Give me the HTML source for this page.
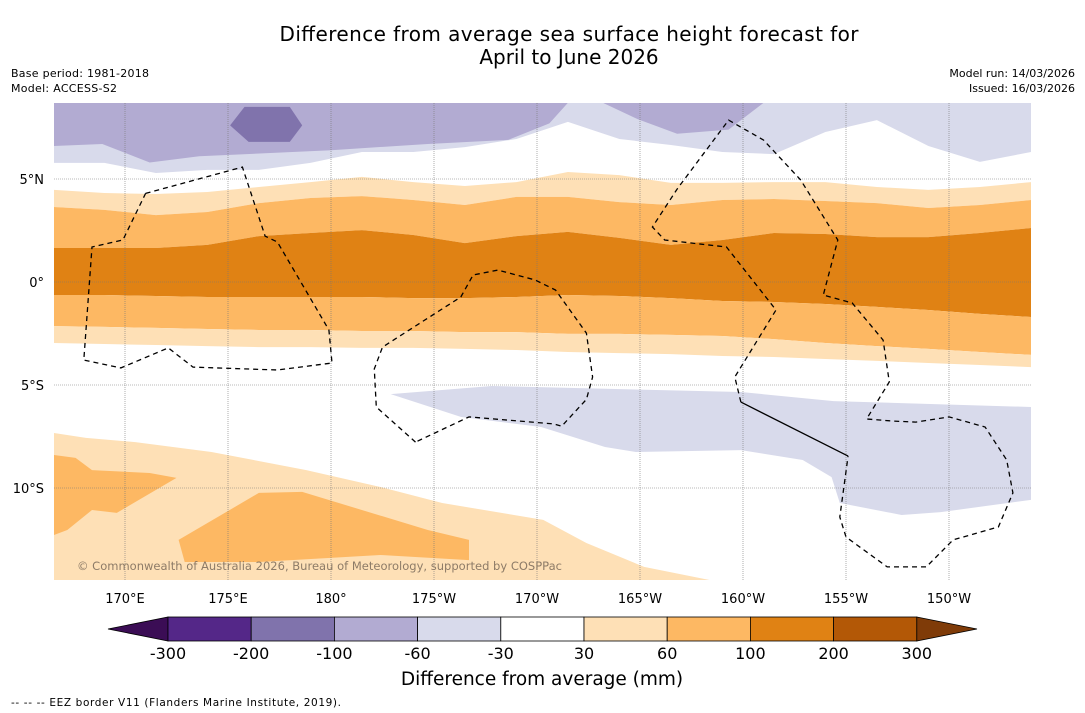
<!DOCTYPE html>
<html><head><meta charset="utf-8">
<style>
body{margin:0;background:#fff;width:1085px;height:713px;overflow:hidden;font-family:"DejaVu Sans","Liberation Sans",sans-serif;}
svg{display:block}
</style></head>
<body>
<svg id="chart" width="1085" height="713" viewBox="0 0 1085 713" xmlns="http://www.w3.org/2000/svg" font-family="DejaVu Sans, Liberation Sans, sans-serif">
<rect width="1085" height="713" fill="#fff"/>
<text x="569" y="41" font-size="20" text-anchor="middle" fill="#000" textLength="579">Difference from average sea surface height forecast for</text>
<text x="569" y="64" font-size="20" text-anchor="middle" fill="#000">April to June 2026</text>
<text x="11" y="77" font-size="11" textLength="138">Base period: 1981-2018</text>
<text x="11" y="92" font-size="11" textLength="106">Model: ACCESS-S2</text>
<text x="1075" y="77" font-size="11" text-anchor="end">Model run: 14/03/2026</text>
<text x="1075" y="92" font-size="11" text-anchor="end">Issued: 16/03/2026</text>
<defs><clipPath id="mapclip"><rect x="54" y="103" width="977" height="477"/></clipPath></defs>
<g id="map" clip-path="url(#mapclip)"></g>
<g id="grid"></g>
<g id="eez"></g>
<text x="77" y="570" font-size="11.5" fill="#7a6a5a" opacity="0.85" textLength="485">© Commonwealth of Australia 2026, Bureau of Meteorology, supported by COSPPac</text>
<g id="axes"></g>
<g id="cbar"></g>
<text x="542" y="685" font-size="18.5" text-anchor="middle">Difference from average (mm)</text>
<text x="11" y="706" font-size="10.5" textLength="330">--  --  -- EEZ border V11 (Flanders Marine Institute, 2019).</text>
</svg>
<script>
// ---- data ----
const cbLevels = ["-300","-200","-100","-60","-30","30","60","100","200","300"];
const cbColors = ["#542788","#8073ac","#b2abd2","#d8daeb","#ffffff","#fee0b6","#fdb863","#e08214","#b35806"];
const cbExtendLow = "#3b0d55", cbExtendHigh = "#7f3b08";
const lonTicks = [170,175,180,185,190,195,200,205,210];
const lonTickLabels = ["170°E","175°E","180°","175°W","170°W","165°W","160°W","155°W","150°W"];
const latTicks = [5,0,-5,-10];
const latTickLabels = ["5°N","0°","5°S","10°S"];
// contour boundaries (latitude) sampled at these longitudes
const sampleLons = [166.55,169.0,171.5,174.0,176.5,179.0,181.5,184.0,186.5,189.0,191.5,194.0,196.5,199.0,201.5,204.0,206.5,209.0,211.5,213.98];
const bWhiteLt = [4.47,4.32,4.27,4.37,4.61,4.85,5.10,4.85,4.66,4.85,5.34,5.19,4.81,4.81,4.85,4.85,4.61,4.47,4.61,4.85];
const bLtOr    = [3.64,3.50,3.25,3.40,3.83,4.08,4.17,3.98,3.74,4.13,4.13,3.88,3.74,3.98,4.03,3.93,3.83,3.59,3.74,3.98];
const bOrDark  = [1.65,1.65,1.65,1.80,2.23,2.38,2.52,2.28,1.89,2.23,2.43,2.14,1.80,2.04,2.38,2.33,2.18,2.18,2.38,2.62];
const bDarkOr  = [-0.63,-0.63,-0.68,-0.73,-0.73,-0.73,-0.73,-0.78,-0.78,-0.73,-0.63,-0.68,-0.78,-0.92,-0.97,-1.07,-1.21,-1.36,-1.55,-1.70];
const bOrLt    = [-2.14,-2.18,-2.23,-2.28,-2.33,-2.33,-2.38,-2.38,-2.43,-2.43,-2.52,-2.52,-2.57,-2.62,-2.77,-2.96,-3.11,-3.25,-3.40,-3.54];
const bLtWhite = [-2.96,-3.01,-3.06,-3.11,-3.16,-3.16,-3.20,-3.20,-3.25,-3.30,-3.40,-3.45,-3.50,-3.59,-3.64,-3.74,-3.83,-3.93,-4.03,-4.13];
const bLavTop  = [5.78,5.78,5.29,5.44,5.44,5.78,6.31,6.31,6.55,6.94,7.77,6.94,6.65,6.31,6.21,7.28,7.86,6.60,5.83,6.31];
// closed regions [lon, lat]
const purpleLeft = [[166.55,8.7],[191.5,8.7],[190.6,7.7],[188.6,6.9],[184.7,6.7],[180,6.4],[173.6,6.1],[171.2,5.8],[168.9,6.7],[166.55,6.6]];
const purpleDark = [[175.8,8.5],[178,8.5],[178.6,7.6],[178,6.8],[176,6.8],[175.1,7.6]];
const purpleRight = [[193.2,8.7],[201,8.7],[199.3,7.4],[196.8,7.2],[194.9,7.9]];
const lavSouth = [[182.9,-5.44],[187.8,-5.05],[199.9,-5.34],[204.4,-5.78],[213.98,-6.07],[213.98,-10.58],[209.6,-11.17],[207.7,-11.31],[204.7,-10.73],[204.3,-9.47],[202.9,-8.64],[199.9,-8.16],[194.8,-8.25],[193.3,-8.01],[190.2,-7.04],[186.3,-6.55]];
const ltOrSouth = [[166.55,-7.33],[168.1,-7.57],[170.5,-7.77],[174.2,-8.25],[178.8,-9.13],[182.4,-9.95],[185.4,-10.73],[190.3,-11.55],[192.4,-12.67],[195.2,-13.83],[198.4,-14.47],[166.55,-14.47]];
const orSouthA = [[166.55,-8.40],[167.6,-8.54],[168.4,-9.13],[171.2,-9.27],[172.5,-9.51],[169.6,-11.21],[168.4,-11.07],[167.2,-12.04],[166.55,-12.28]];
const orSouthB = [[172.6,-12.52],[176.5,-10.24],[178.6,-10.19],[184.7,-12.04],[186.7,-12.52],[186.7,-13.50],[182.4,-13.25],[176.5,-13.59],[172.9,-13.59]];
const eezLeft = [[171.0,4.3],[175.7,5.58],[176.8,2.23],[177.4,1.94],[179.9,-2.33],[180.05,-3.93],[177.4,-4.27],[173.3,-4.13],[172.1,-3.20],[169.8,-4.17],[168.0,-3.79],[168.4,1.70],[169.9,2.04],[171.0,4.3]];
const eezMid = [[184.1,-7.77],[182.2,-6.07],[182.1,-4.22],[182.5,-3.16],[186.3,-0.73],[186.9,0.34],[188.1,0.58],[189.9,0.10],[190.9,-0.39],[192.4,-2.48],[192.7,-4.61],[192.4,-5.7],[191.2,-7.0],[190.8,-6.89],[186.7,-6.55],[184.1,-7.77]];
const eezRight = [[199.9,-5.83],[199.6,-4.61],[201.6,-1.36],[199.2,1.70],[196.2,2.04],[195.6,2.67],[196.8,4.51],[199.3,7.86],[201.0,6.89],[202.8,4.95],[204.6,2.04],[203.9,-0.63],[205.3,-1.02],[206.8,-2.82],[207.1,-4.85],[206.0,-6.65],[207.3,-6.75],[208.4,-6.80],[210.0,-6.55],[211.75,-7.04],[212.8,-8.64],[213.1,-10.24],[212.4,-11.89],[210.2,-12.52],[208.9,-13.83],[207.0,-13.83],[205.0,-12.38],[204.7,-11.41],[205.1,-8.45]];
const eezSolid = [[199.9,-5.83],[205.1,-8.45]];
// ---- axes ----
const X = lon => 331 + (lon - 180) * 20.6;
const Y = lat => 282 - lat * 20.6;
const NS = "http://www.w3.org/2000/svg";
function mk(tag, attrs, parent){const e=document.createElementNS(NS,tag);for(const k in attrs)e.setAttribute(k,attrs[k]);parent.appendChild(e);return e;}
const map = document.getElementById('map');
function ptsLL(arr){return arr.map(p=>X(p[0]).toFixed(1)+","+Y(p[1]).toFixed(1)).join(" ");}
function band(upper, lower, color, name){
  const top = sampleLons.map((l,i)=>[l, upper ? upper[i] : 9]);
  const bot = sampleLons.map((l,i)=>[l, lower ? lower[i] : -15]).reverse();
  const e = mk('polygon',{points:ptsLL(top.concat(bot)),fill:color},map);
  
  
}
function region(arr,color,name){
  const e = mk('polygon',{points:ptsLL(arr),fill:color},map);
  
  
}
mk('rect',{x:54,y:103,width:977,height:477,fill:"#ffffff"},map);
band(null, bLavTop, "#d8daeb", "band-lavender-north");
region(purpleLeft, "#b2abd2", "band-purple-north-west");
region(purpleRight, "#b2abd2", "band-purple-north-east");
region(purpleDark, "#8073ac", "band-dark-purple-patch");
band(bWhiteLt, bLtOr, "#fee0b6", "band-light-orange-north");
band(bLtOr, bOrDark, "#fdb863", "band-orange-north");
band(bOrDark, bDarkOr, "#e08214", "band-dark-orange-equator");
band(bDarkOr, bOrLt, "#fdb863", "band-orange-south");
band(bOrLt, bLtWhite, "#fee0b6", "band-light-orange-south");
region(lavSouth, "#d8daeb", "band-lavender-south");
region(ltOrSouth, "#fee0b6", "band-light-orange-southwest");
region(orSouthA, "#fdb863", "band-orange-southwest-a");
region(orSouthB, "#fdb863", "band-orange-southwest-b");
// grid
const grid = document.getElementById('grid');
lonTicks.forEach(l=>{const e=mk('line',{x1:X(l),x2:X(l),y1:103,y2:580,stroke:"#777","stroke-width":0.6,"stroke-dasharray":"1,1"},grid);
 
 });
latTicks.forEach(l=>{const e=mk('line',{x1:54,x2:1031,y1:Y(l),y2:Y(l),stroke:"#777","stroke-width":0.6,"stroke-dasharray":"1,1"},grid);
 
 });
// eez
const eez = document.getElementById('eez');
[eezLeft,eezMid,eezRight].forEach(a=>{const e=mk('polyline',{points:ptsLL(a),fill:"none",stroke:"#000","stroke-width":1.3,"stroke-dasharray":"5,4"},eez);
 
 });
{const e=mk('polyline',{points:ptsLL(eezSolid),fill:"none",stroke:"#000","stroke-width":1.3},eez);
 
 }
// axes labels
const axes = document.getElementById('axes');
lonTicks.forEach((l,i)=>{const t=mk('text',{x:X(l),y:603,"font-size":13,"text-anchor":"middle"},axes);t.textContent=lonTickLabels[i];
 
 });
latTicks.forEach((l,i)=>{const t=mk('text',{x:44,y:Y(l)+5,"font-size":13,"text-anchor":"end"},axes);t.textContent=latTickLabels[i];
 
 });
// colorbar
const cb = document.getElementById('cbar');
const cbX0 = 168, cbW = 83.2, cbY = 617, cbH = 24;
{const e=mk('polygon',{points:`108,${cbY+cbH/2} ${cbX0},${cbY} ${cbX0},${cbY+cbH}`,fill:cbExtendLow,stroke:"#000","stroke-width":0.8},cb);
 
 }
cbColors.forEach((c,i)=>{const e=mk('rect',{x:cbX0+i*cbW,y:cbY,width:cbW,height:cbH,fill:c,stroke:"#000","stroke-width":0.8},cb);
 
 });
const cbEnd = cbX0 + cbColors.length*cbW;
{const e=mk('polygon',{points:`${cbEnd},${cbY} 977,${cbY+cbH/2} ${cbEnd},${cbY+cbH}`,fill:cbExtendHigh,stroke:"#000","stroke-width":0.8},cb);
 
 }
cbLevels.forEach((v,i)=>{const t=mk('text',{x:cbX0+i*cbW,y:659,"font-size":16,"text-anchor":"middle"},cb);t.textContent=v;
 
 });
</script>
</body></html>
